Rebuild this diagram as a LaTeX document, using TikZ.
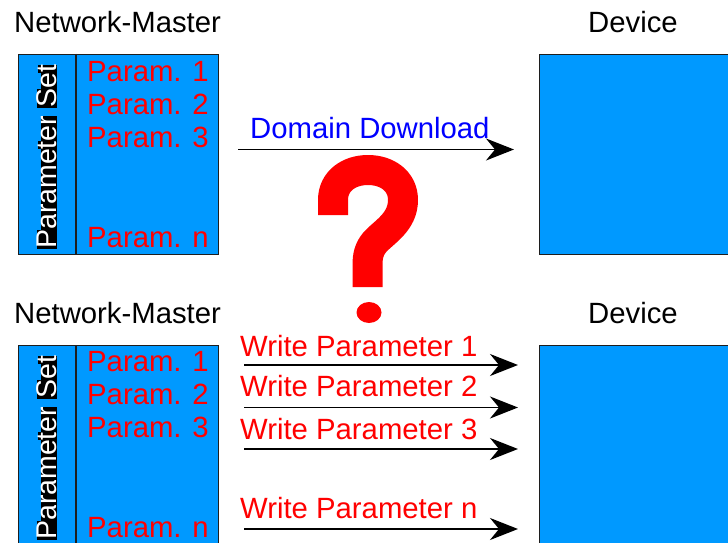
\documentclass[tikz,border=0pt]{standalone}
\usepackage{fontspec}
\setmainfont{Liberation Sans}
\usetikzlibrary{arrows.meta}
\definecolor{boxblue}{RGB}{0,153,255}
\definecolor{edge}{RGB}{30,30,30}
% one glyph on its own tight black patch
\newcommand\blkchar[1]{{\setlength{\fboxsep}{0pt}\colorbox{black}{#1}}}
\newcommand\pslabel{\blkchar{P}\blkchar{a}\blkchar{r}\blkchar{a}\blkchar{m}\blkchar{e}\blkchar{t}\blkchar{e}\blkchar{r}\hspace{8pt}\blkchar{S}\blkchar{e}\blkchar{t}}
\tikzset{
  bigfont/.style={font=\fontsize{29.3}{34}\selectfont},
  psbox/.style={draw=edge, line width=1.3pt, fill=boxblue, minimum width=200pt, minimum height=200pt, anchor=north west, inner sep=0pt},
  devbox/.style={draw=edge, line width=1.3pt, fill=boxblue, minimum width=220pt, minimum height=200pt, anchor=north west, inner sep=0pt},
  title/.style={bigfont, text=black, anchor=base west, inner sep=0pt},
  param/.style={bigfont, text=red, anchor=base west, inner sep=0pt},
  vlabel/.style={font=\fontsize{28.5}{34}\selectfont, text=white, rotate=90, anchor=base west, inner sep=0pt},
  msg/.style={line width=1.8pt, -{Stealth[length=28pt, width=22pt, inset=9pt]}},
  qmark/.style={red, line width=30pt, line cap=butt, line join=round},
}
\begin{document}
\begin{tikzpicture}[x=1pt, y=-1pt]
\useasboundingbox (0,0) rectangle (728,543);

% ---------- upper scenario: domain download ----------
\node[title] (nm1) at (14,33) {Network-Master};
\node[title] (dv1) at (588,33) {Device};
\node[psbox] (ps1) at (18,54) {};
\draw[edge, line width=1.3pt] (ps1.north west) ++(58,0) coordinate (d1t) -- (d1t |- ps1.south);
\node[vlabel] (ps1l) at (56.5,249) {\pslabel};
\node[param] (p11) at (87,81.5) {Param. 1};
\node[param] (p12) at (87,114.5) {Param. 2};
\node[param] (p13) at (87,147.5) {Param. 3};
\node[param] (p1n) at (87,247) {Param. n};
\node[devbox] (dev1) at (539,54) {};

\coordinate (dd-s) at (238,149.5);
\coordinate (dd-e) at (514,149.5);
\draw[msg] (dd-s) -- (dd-e);
\node[bigfont, text=blue, anchor=base west, inner sep=0pt] (ddl) at (250,138) {Domain Download};

% big question mark between the two scenarios: hook and stem, then the dot
\draw[qmark] (333,215) -- (333,200)
  .. controls (333,181) and (349,170) .. (368,170)
  .. controls (387,170) and (403,181) .. (403,200)
  .. controls (403,222) and (384,232) .. (375,242)
  .. controls (369,249) and (367.5,256) .. (367.5,265) -- (367.5,287);
\fill[red] (369,312.5) ellipse [x radius=12.5, y radius=10.5];

% ---------- lower scenario: single parameter writes ----------
\node[title] (nm2) at (14,323) {Network-Master};
\node[title] (dv2) at (588,323) {Device};
\node[psbox] (ps2) at (18,345) {};
\draw[edge, line width=1.3pt] (ps2.north west) ++(58,0) coordinate (d2t) -- (d2t |- ps2.south);
\node[vlabel] (ps2l) at (56.5,540) {\pslabel};
\node[param] (p21) at (87,371.5) {Param. 1};
\node[param] (p22) at (87,404) {Param. 2};
\node[param] (p23) at (87,437) {Param. 3};
\node[param] (p2n) at (87,537) {Param. n};
\node[devbox] (dev2) at (539,345) {};

\foreach \i/\yl/\yb/\t in {1/365/356/1, 2/407.5/396.5/2, 3/449/439/3, n/529/518/n}{
  \coordinate (w\i-s) at (244,\yl);
  \coordinate (w\i-e) at (518,\yl);
  \draw[msg] (w\i-s) -- (w\i-e);
  \node[param] (w\i-l) at (240,\yb) {Write Parameter \t};
}
\end{tikzpicture}
\end{document}
